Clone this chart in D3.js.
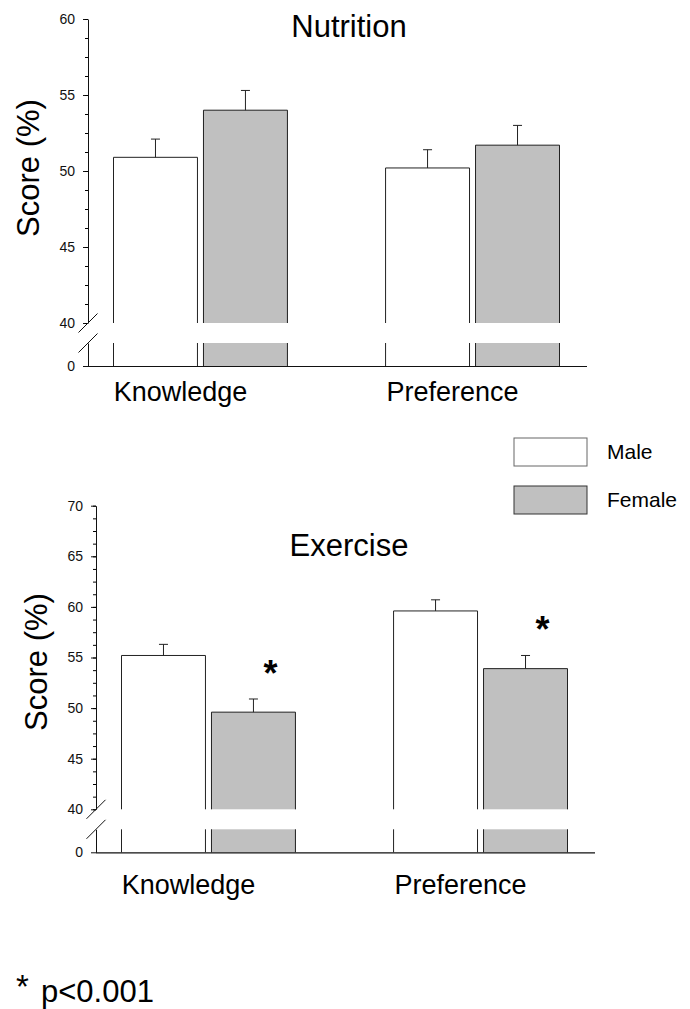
<!DOCTYPE html>
<html>
<head>
<meta charset="utf-8">
<script src="https://cdn.jsdelivr.net/npm/d3@7"></script>
<style>
  body { margin: 0; background: #fff; }
  svg { display: block; font-family: "Liberation Sans", Arial, sans-serif; }
</style>
</head>
<body>
<div id="svg-container"></div>
<script>
////////////////////////////////////////////////////////////////////
////////////////////////////  Data  ////////////////////////////////
const categories = ["Knowledge", "Preference"];
const groups = ["Male", "Female"];

const nutritionMale = [50.9, 50.2];
const nutritionMaleErr = [1.2, 1.2];
const nutritionFemale = [54.0, 51.7];
const nutritionFemaleErr = [1.3, 1.3];
const nutritionFemaleSig = [false, false];
const nutritionTicks = [40, 45, 50, 55, 60];

const exerciseMale = [55.2, 59.6];
const exerciseMaleErr = [1.1, 1.1];
const exerciseFemale = [49.6, 53.9];
const exerciseFemaleErr = [1.3, 1.3];
const exerciseFemaleSig = [true, true];
const exerciseTicks = [40, 45, 50, 55, 60, 65, 70];

const footnote = "p<0.001";

////////////////////////////////////////////////////////////////////
////////////////////////////  Init  ////////////////////////////////
const width = 690;
const height = 1009;

const svg = d3
  .select("#svg-container")
  .append("svg")
  .attr("width", width)
  .attr("height", height);

const colorScale = d3.scaleOrdinal().domain(groups).range(["#ffffff", "#c0c0c0"]);

// build rows for one panel
function rows(male, maleErr, female, femaleErr, femaleSig) {
  const out = [];
  categories.forEach((c, i) => {
    out.push({ cat: c, group: "Male", value: male[i], err: maleErr[i], sig: false });
    out.push({ cat: c, group: "Female", value: female[i], err: femaleErr[i], sig: femaleSig[i] });
  });
  return out;
}

////////////////////////////////////////////////////////////////////
////////////////////////////  Panel  ///////////////////////////////
function drawPanel(opt) {
  const g = svg.append("g");
  const ticks = opt.ticks;
  const yMaxVal = d3.max(ticks);
  const yMinVal = d3.min(ticks);

  // upper (real) part of the y axis and lower stub below the break
  const yUpper = d3.scaleLinear().domain([yMinVal, yMaxVal]).range([opt.y40, opt.yTop]);
  const yLower = d3.scaleLinear().domain([0, yMinVal]).range([opt.y0, opt.gapBot]);

  const x0 = d3
    .scaleBand()
    .domain(categories)
    .range([opt.axisX + 25, opt.axisX + 472])
    .paddingInner(0.357)
    .paddingOuter(0);
  const x1 = d3.scaleBand().domain(groups).range([0, x0.bandwidth()]).paddingInner(0.0556);

  const data = rows(opt.male, opt.maleErr, opt.female, opt.femaleErr, opt.femaleSig);

  // bars
  const bar = g
    .selectAll("g.bar")
    .data(data)
    .join("g")
    .attr("class", "bar")
    .attr("transform", (d) => `translate(${x0(d.cat) + x1(d.group)},0)`);

  const bw = x1.bandwidth();

  bar
    .append("rect")
    .attr("y", (d) => yUpper(d.value))
    .attr("width", bw)
    .attr("height", (d) => yUpper(yMinVal) - yUpper(d.value))
    .attr("fill", (d) => colorScale(d.group));

  bar
    .append("rect")
    .attr("y", yLower(yMinVal))
    .attr("width", bw)
    .attr("height", yLower(0) - yLower(yMinVal))
    .attr("fill", (d) => colorScale(d.group));

  bar
    .append("path")
    .attr("fill", "none")
    .attr("stroke", "#222")
    .attr("stroke-width", 1)
    .attr(
      "d",
      (d) =>
        `M0.5,${yUpper(yMinVal)}V${yUpper(d.value)}H${bw - 0.5}V${yUpper(yMinVal)}` +
        `M0.5,${yLower(0)}V${yLower(yMinVal)}M${bw - 0.5},${yLower(yMinVal)}V${yLower(0)}`
    );

  // error bars (upper only)
  bar
    .append("path")
    .attr("fill", "none")
    .attr("stroke", "#222")
    .attr("stroke-width", 1)
    .attr(
      "d",
      (d) =>
        `M${bw / 2},${yUpper(d.value)}V${yUpper(d.value + d.err)}` +
        `M${bw / 2 - 4.5},${yUpper(d.value + d.err)}H${bw / 2 + 4.5}`
    );

  // significance stars
  bar
    .filter((d) => d.sig)
    .append("text")
    .attr("x", bw / 2 + 17)
    .attr("y", (d) => yUpper(d.value + d.err) - 13)
    .attr("text-anchor", "middle")
    .style("font-size", "36px")
    .style("font-weight", "bold")
    .text("*");

  // y axis, upper
  const axUp = g
    .append("g")
    .attr("transform", `translate(${opt.axisX},0)`)
    .call(d3.axisLeft(yUpper).tickValues(ticks).tickSize(5).tickSizeOuter(0).tickPadding(8));
  g.append("g")
    .attr("transform", `translate(${opt.axisX},0)`)
    .call(
      d3
        .axisLeft(yUpper)
        .tickValues(d3.range(yMinVal, yMaxVal + 0.01, 1.25))
        .tickSize(3)
        .tickFormat("")
    )
    .call((a) => a.select(".domain").remove());

  // y axis, below break
  const axLow = g
    .append("g")
    .attr("transform", `translate(${opt.axisX},0)`)
    .call(d3.axisLeft(yLower).tickValues([0]).tickSize(5).tickSizeOuter(0).tickPadding(8));

  [axUp, axLow].forEach((a) => {
    a.attr("font-size", null).attr("font-family", null);
    a.selectAll("text").style("font-size", "14px").attr("fill", "#111");
    a.selectAll("line, path").attr("stroke", "#111");
  });

  // break marks
  g.selectAll("line.brk")
    .data([yUpper(yMinVal), yLower(yMinVal)])
    .join("line")
    .attr("class", "brk")
    .attr("x1", opt.axisX - 9.5)
    .attr("x2", opt.axisX + 9.5)
    .attr("y1", (d) => d + 9.5)
    .attr("y2", (d) => d - 9.5)
    .attr("stroke", "#111")
    .attr("stroke-width", 1);

  // x axis
  g.append("line")
    .attr("x1", opt.axisX)
    .attr("x2", opt.axisX + 499)
    .attr("y1", yLower(0) + 0.5)
    .attr("y2", yLower(0) + 0.5)
    .attr("stroke", "#111")
    .attr("stroke-width", 1.2);

  // category labels
  g.selectAll("text.cat")
    .data(categories)
    .join("text")
    .attr("class", "cat")
    .attr("x", (d) => x0(d) + x0.bandwidth() / 2 - 20)
    .attr("y", opt.catY)
    .attr("text-anchor", "middle")
    .style("font-size", "27px")
    .text((d) => d);

  // title
  g.append("text")
    .attr("x", 349)
    .attr("y", opt.titleY)
    .attr("text-anchor", "middle")
    .style("font-size", "31px")
    .text(opt.title);

  // y label
  g.append("text")
    .attr("transform", `translate(${opt.axisX - 49},${opt.labelY}) rotate(-90)`)
    .attr("text-anchor", "middle")
    .style("font-size", "31px")
    .text("Score (%)");
}

drawPanel({
  title: "Nutrition",
  male: nutritionMale,
  maleErr: nutritionMaleErr,
  female: nutritionFemale,
  femaleErr: nutritionFemaleErr,
  femaleSig: nutritionFemaleSig,
  ticks: nutritionTicks,
  axisX: 88,
  yTop: 19,
  y40: 323,
  gapBot: 343,
  y0: 366,
  titleY: 37,
  catY: 401,
  labelY: 168,
});

drawPanel({
  title: "Exercise",
  male: exerciseMale,
  maleErr: exerciseMaleErr,
  female: exerciseFemale,
  femaleErr: exerciseFemaleErr,
  femaleSig: exerciseFemaleSig,
  ticks: exerciseTicks,
  axisX: 96,
  yTop: 505.7,
  y40: 809.3,
  gapBot: 829.3,
  y0: 852.3,
  titleY: 556,
  catY: 894,
  labelY: 662,
});

////////////////////////////////////////////////////////////////////
////////////////////////////  Legend  //////////////////////////////
const legend = svg
  .selectAll("g.legend")
  .data(groups)
  .join("g")
  .attr("class", "legend")
  .attr("transform", (d, i) => `translate(514,${438 + i * 48})`);

legend
  .append("rect")
  .attr("width", 73)
  .attr("height", 28)
  .attr("fill", (d) => colorScale(d))
  .attr("stroke", (d) => (d === "Male" ? "#666" : "#333"))
  .attr("stroke-width", 1);

legend
  .append("text")
  .attr("x", 93)
  .attr("y", 20.5)
  .style("font-size", "21px")
  .text((d) => d);

////////////////////////////////////////////////////////////////////
////////////////////////////  Footnote  ////////////////////////////
svg
  .append("text")
  .attr("x", 16)
  .attr("y", 998)
  .style("font-size", "33px")
  .text("*");

svg
  .append("text")
  .attr("x", 41)
  .attr("y", 1002)
  .style("font-size", "31px")
  .text(footnote);
</script>
</body>
</html>
